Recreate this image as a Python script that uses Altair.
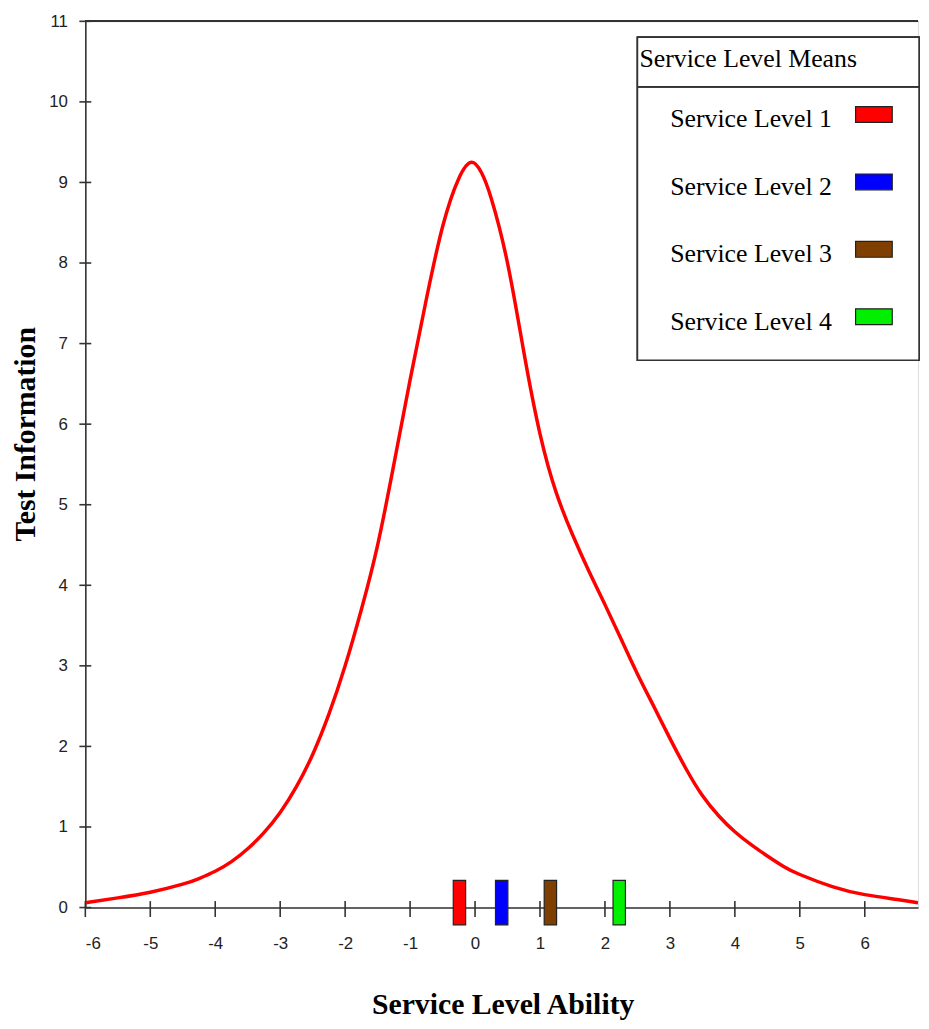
import altair as alt
import pandas as pd

# ---------------- data ----------------
ability = [-6.0, -5.5, -5.0, -4.5, -4.25, -4.0, -3.75, -3.5, -3.25, -3.0, -2.75, -2.5,
           -2.25, -2.0, -1.75, -1.5, -1.25, -1.0, -0.75, -0.5, -0.25, -0.05, 0.1, 0.25,
           0.5, 0.75, 1.0, 1.25, 1.5, 1.75, 2.0, 2.25, 2.5, 2.75, 3.0, 3.25, 3.5, 3.75,
           4.0, 4.25, 4.5, 4.75, 5.0, 5.5, 6.0, 6.5, 6.82]
information = [0.06, 0.12, 0.19, 0.29, 0.36, 0.45, 0.57, 0.73, 0.93, 1.18, 1.5, 1.9,
               2.4, 3.0, 3.7, 4.5, 5.5, 6.55, 7.55, 8.45, 9.05, 9.25, 9.12, 8.8,
               8.0, 6.9, 5.88, 5.15, 4.63, 4.18, 3.76, 3.33, 2.9, 2.5, 2.1, 1.72, 1.39, 1.14,
               0.94, 0.78, 0.64, 0.51, 0.41, 0.26, 0.16, 0.1, 0.06]

levels = ["Service Level 1", "Service Level 2", "Service Level 3", "Service Level 4"]
level_means = [-0.24, 0.41, 1.16, 2.22]
level_colors = ["#ff0000", "#0000ff", "#7f3f00", "#00f000"]

x_ticks = list(range(-6, 7))
y_ticks = list(range(0, 12))
legend_title = "Service Level Means"

# ---------------- styling ----------------
AXIS = "#333333"
SANS = "Liberation Sans"
SERIF = "Liberation Serif"

xs = alt.Scale(domain=[-6, 6.82], nice=False, zero=False)
ys = alt.Scale(domain=[0, 11], nice=False, zero=False)

curve_df = pd.DataFrame({"ability": ability, "info": information})
means_df = pd.DataFrame({"mean": level_means, "level": levels, "color": level_colors})
xt_df = pd.DataFrame({"t": x_ticks})
yt_df = pd.DataFrame({"t": y_ticks})
legend_df = pd.DataFrame({"label": levels, "color": level_colors,
                          "row": list(range(len(levels)))})

curve = alt.Chart(curve_df).mark_line(
    color="#ff0000", strokeWidth=3.5, interpolate="natural", clip=True
).encode(
    x=alt.X("ability:Q", scale=xs,
            axis=alt.Axis(values=x_ticks, ticks=False, grid=False, domainColor=AXIS,
                          domainWidth=1.6, labelFont=SANS, labelFontSize=17,
                          labelColor="#222", labelPadding=28,
                          labelExpr="'' + datum.value",
                          title="Service Level Ability", titleFont=SERIF,
                          titleFontSize=30, titleFontWeight="bold", titleColor="#000",
                          titleX=421, titleY=107, titleAlign="center",
                          titleBaseline="alphabetic")),
    y=alt.Y("info:Q", scale=ys,
            axis=alt.Axis(values=y_ticks, ticks=False, grid=False, domainColor=AXIS,
                          domainWidth=1.6, labelFont=SANS, labelFontSize=17,
                          labelColor="#222", labelPadding=18,
                          labelExpr="'' + datum.value",
                          title="Test Information", titleFont=SERIF,
                          titleFontSize=30, titleFontWeight="bold", titleColor="#000",
                          titleAngle=270, titleX=-51, titleY=416, titleAlign="center",
                          titleBaseline="alphabetic")),
)

top_rule = alt.Chart(xt_df).mark_rule(color=AXIS, strokeWidth=1.6).encode(y=alt.datum(11))

xticks = alt.Chart(xt_df).mark_tick(
    orient="vertical", size=16, thickness=1.6, color=AXIS, opacity=1, yOffset=1.5, clip=False
).encode(x=alt.X("t:Q", scale=xs), y=alt.datum(0))

yticks = alt.Chart(yt_df).mark_tick(
    orient="horizontal", size=12, thickness=1.6, color=AXIS, opacity=1, clip=False
).encode(y=alt.Y("t:Q", scale=ys), x=alt.datum(-6))

means = alt.Chart(means_df).mark_tick(
    orient="vertical", size=45, thickness=12.5, opacity=1, stroke="#222",
    strokeWidth=1.2, yOffset=-5, clip=False
).encode(
    x=alt.X("mean:Q", scale=xs),
    y=alt.datum(0),
    color=alt.Color("color:N", scale=None),
)

main = alt.layer(curve, top_rule, xticks, yticks, means)

# ---------------- legend box ----------------
box = alt.Chart(legend_df).mark_rect(
    fill="white", stroke=AXIS, strokeWidth=1.5
).encode(x=alt.value(557), x2=alt.value(841), y=alt.value(16), y2=alt.value(342))

sep = alt.Chart(legend_df).mark_rule(color=AXIS, strokeWidth=1.5).encode(
    x=alt.value(557), x2=alt.value(841), y=alt.value(66))

ltitle = alt.Chart(pd.DataFrame({"t": [legend_title]})).mark_text(
    align="left", baseline="alphabetic", font=SERIF, fontSize=26, color="#000"
).encode(x=alt.value(559), y=alt.value(46), text="t:N")

row_y = "94 + 68 * datum.row"

swatches = alt.Chart(legend_df).transform_calculate(py=row_y).mark_tick(
    orient="horizontal", size=37, thickness=16, opacity=1, stroke="#222", strokeWidth=1.2
).encode(
    x=alt.value(795.5),
    y=alt.Y("py:Q", scale=None),
    color=alt.Color("color:N", scale=None),
)

labels = alt.Chart(legend_df).transform_calculate(py=row_y + " + 13").mark_text(
    align="left", baseline="alphabetic", font=SERIF, fontSize=26, color="#000"
).encode(
    x=alt.value(590),
    y=alt.Y("py:Q", scale=None),
    text="label:N",
)

legend = alt.layer(box, sep, ltitle, swatches, labels)

chart = alt.layer(main, legend).resolve_scale(y="independent", x="independent").properties(
    width=840, height=894,
    autosize=alt.AutoSizeParams(type="none"),
    padding={"left": 78, "top": 9, "right": 3, "bottom": 110},
).configure_view(stroke=None).configure(background="white")

chart.save("out.html", embed_options={"renderer": "svg", "actions": False})
